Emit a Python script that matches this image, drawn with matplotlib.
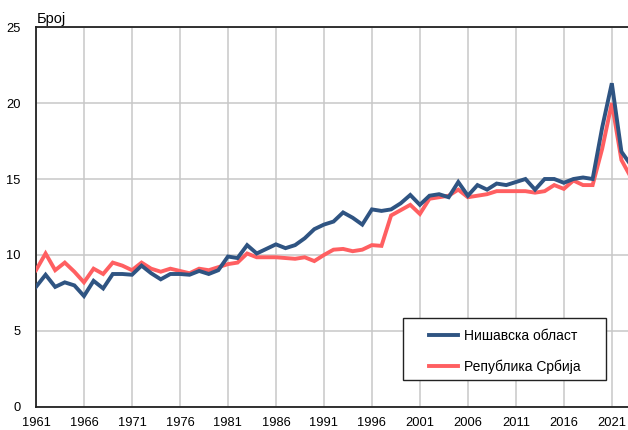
import matplotlib.pyplot as plt
from matplotlib.patches import Rectangle
import numpy as np

plt.rcParams['font.family'] = ['Liberation Sans', 'DejaVu Sans']

years = np.arange(1961, 2024)

nis = [7.9, 8.7, 7.9, 8.2, 8.0, 7.3, 8.3, 7.8, 8.75, 8.75,
       8.7, 9.3, 8.8, 8.4, 8.75, 8.75, 8.7, 8.95, 8.75, 9.0,
       9.9, 9.8, 10.65, 10.1, 10.4, 10.7, 10.45, 10.65, 11.1, 11.7,
       12.0, 12.2, 12.8, 12.45, 12.0, 13.0, 12.9, 13.0, 13.4, 13.95,
       13.3, 13.9, 14.0, 13.8, 14.8, 13.9, 14.6, 14.3, 14.7, 14.6,
       14.8, 15.0, 14.3, 15.0, 15.0, 14.75, 15.0, 15.1, 15.0, 18.4,
       21.3, 16.8, 15.9]

srbija = [9.0, 10.1, 9.0, 9.5, 8.9, 8.2, 9.1, 8.75, 9.5, 9.3,
          9.0, 9.5, 9.1, 8.9, 9.1, 8.95, 8.8, 9.1, 9.0, 9.2,
          9.4, 9.5, 10.1, 9.85, 9.85, 9.85, 9.8, 9.75, 9.85, 9.6,
          10.0, 10.35, 10.4, 10.25, 10.35, 10.65, 10.6, 12.6, 12.95, 13.3,
          12.7, 13.7, 13.8, 13.9, 14.3, 13.8, 13.9, 14.0, 14.2, 14.2,
          14.2, 14.2, 14.1, 14.2, 14.6, 14.35, 14.9, 14.6, 14.6, 17.0,
          20.0, 16.25, 15.1]

labels = ['Нишавска област', 'Република Србија']

fig = plt.figure(figsize=(6.28, 4.30), dpi=100)
ax = fig.add_axes([0.0573, 0.0535, 0.9475, 0.8837])

ax.plot(years, nis, color='#2F5482', linewidth=2.8, label=labels[0],
        solid_joinstyle='miter', zorder=4)
ax.plot(years, srbija, color='#FF5F61', linewidth=2.8, label=labels[1],
        solid_joinstyle='miter', zorder=3)

ax.set_xlim(1961, 2023)
ax.set_ylim(0, 25)
ax.set_xticks(np.arange(1961, 2024, 5))
ax.set_yticks(np.arange(0, 26, 5))
ax.grid(True, color='#C8C8C8', linewidth=1.1)
ax.set_axisbelow(True)
ax.tick_params(length=0, labelsize=9.3, pad=7)
ax.tick_params(axis='y', pad=11)

for s in ['left', 'bottom', 'top']:
    ax.spines[s].set_color('#222222')
    ax.spines[s].set_linewidth(1.3)
ax.spines['right'].set_visible(False)

fig.text(0.058, 0.9465, 'Број', fontsize=10.5, ha='left', va='baseline')

# рамка легенде
ax.add_patch(Rectangle((0.6417, 0.1163), 0.3232, 0.1442,
                       transform=fig.transFigure, facecolor='white',
                       edgecolor='#222222', linewidth=1.0, zorder=5,
                       clip_on=False))

leg = ax.legend(loc='upper left', bbox_to_anchor=(0.66, 0.205),
                frameon=False, fontsize=10, handlelength=2.1,
                labelspacing=1.2, borderpad=0, handletextpad=0.45,
                borderaxespad=0)
leg.set_zorder(6)

fig.savefig('out.png', dpi=100)
